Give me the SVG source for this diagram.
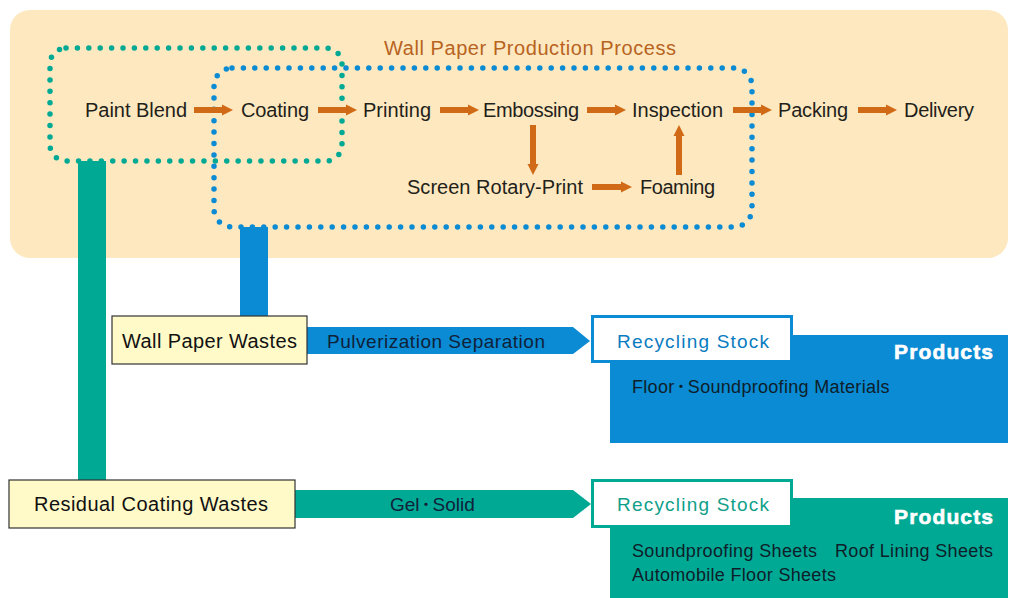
<svg xmlns="http://www.w3.org/2000/svg" width="1014" height="598" viewBox="0 0 1014 598">
<defs>
<style>
text{font-family:"Liberation Sans","Noto Sans CJK JP",sans-serif;}
.p{font-size:20px;fill:#231f1a;}
.t{font-size:20px;fill:#b8631e;}
.box{fill:#fffac8;stroke:#333;stroke-width:1.2;}
.bt{font-size:20px;fill:#111;}
.al{font-size:19px;fill:#10223a;}
.rs{font-size:19px;}
.prod{font-size:21px;font-weight:bold;fill:#fff;stroke:#fff;stroke-width:0.6;}
.pi{font-size:18px;fill:#0e1e2a;}
.md{font-size:13px;font-weight:bold;}
.flow{stroke:#d06a16;stroke-width:6;fill:none;marker-end:url(#ah);}
.dotg{fill:none;stroke:#00a994;stroke-width:5.5;stroke-linecap:round;stroke-dasharray:0 11.4;}
.dotb{fill:none;stroke:#0a8bd3;stroke-width:5.5;stroke-linecap:round;stroke-dasharray:0 11.4;}
</style>
<marker id="ah" markerUnits="userSpaceOnUse" markerWidth="11" markerHeight="12" refX="0" refY="6" orient="auto">
<path d="M0,0.5 L11,6 L0,11.5 z" fill="#d06a16"/>
</marker>
</defs>
<rect x="0" y="0" width="1014" height="598" fill="#fff"/>
<g id="process-panel">
<rect x="10" y="10" width="998" height="248" rx="20" fill="#fde8c0"/>
<text class="t" x="530" y="55" text-anchor="middle" textLength="292">Wall Paper Production Process</text>
</g>
<g id="bars">
<rect x="78" y="161" width="28" height="320" fill="#00a994"/>
<rect x="240" y="227" width="28" height="90" fill="#0a8bd3"/>
</g>
<g id="groups">
<rect id="group-coating" class="dotg" x="50" y="48" width="292" height="113" rx="16"/>
<rect id="group-printing" class="dotb" x="214" y="68" width="538" height="159" rx="18"/>
</g>
<g id="connectors">
<path class="flow" d="M194,110 H222"/>
<path class="flow" d="M318,110 H346"/>
<path class="flow" d="M440,110 H468"/>
<path class="flow" d="M587,110 H615"/>
<path class="flow" d="M733,110 H761"/>
<path class="flow" d="M858,110 H886"/>
<path class="flow" d="M533,125 V164"/>
<path class="flow" d="M592,187 H621"/>
<path class="flow" d="M679,175 V136"/>
<path id="arrow-pulverization" d="M306,327 H573 L590,341 L573,354 H306 z" fill="#0a8bd3"/>
<path id="arrow-gel" d="M295,490 H573 L591,504 L573,518 H295 z" fill="#00a994"/>
</g>
<g id="node-paint-blend"><text class="p" x="85" y="117" textLength="102">Paint Blend</text></g>
<g id="node-coating"><text class="p" x="241" y="117" textLength="68">Coating</text></g>
<g id="node-printing"><text class="p" x="363" y="117" textLength="68">Printing</text></g>
<g id="node-embossing"><text class="p" x="483" y="117" textLength="96">Embossing</text></g>
<g id="node-inspection"><text class="p" x="632" y="117" textLength="91">Inspection</text></g>
<g id="node-packing"><text class="p" x="778" y="117" textLength="70">Packing</text></g>
<g id="node-delivery"><text class="p" x="904" y="117" textLength="70">Delivery</text></g>
<g id="node-screen"><text class="p" x="407" y="194" textLength="176">Screen Rotary-Print</text></g>
<g id="node-foaming"><text class="p" x="640" y="194" textLength="75">Foaming</text></g>
<g id="label-pulverization"><text class="al" x="327" y="348" textLength="218">Pulverization Separation</text></g>
<g id="label-gel"><text class="al" x="390" y="511">Gel<tspan class="md" dy="-2">・</tspan><tspan dy="2">Solid</tspan></text></g>
<g id="node-wallpaper-wastes">
<rect class="box" x="112" y="316" width="195" height="48"/>
<text class="bt" x="122" y="348" textLength="175">Wall Paper Wastes</text>
</g>
<g id="node-residual-wastes">
<rect class="box" x="9" y="480" width="286" height="48"/>
<text class="bt" x="34" y="511" textLength="234">Residual Coating Wastes</text>
</g>
<g id="node-products-blue">
<rect x="610" y="335" width="398" height="108" fill="#0a8bd3"/>
<text class="prod" x="993" y="359" text-anchor="end" textLength="99">Products</text>
<text class="pi" x="632" y="393" letter-spacing="0.3">Floor<tspan class="md" dy="-2">・</tspan><tspan dy="2">Soundproofing Materials</tspan></text>
</g>
<g id="node-recycling-blue">
<rect x="592.5" y="316.5" width="199" height="45" fill="#fff" stroke="#0a8bd3" stroke-width="3"/>
<text class="rs" x="617" y="348" fill="#0a7cc0" textLength="152">Recycling Stock</text>
</g>
<g id="node-products-green">
<rect x="610" y="498" width="398" height="100" fill="#00a994"/>
<text class="prod" x="993" y="524" text-anchor="end" textLength="99">Products</text>
<text class="pi" x="632" y="557" textLength="185">Soundproofing Sheets</text>
<text class="pi" x="835" y="557" textLength="158">Roof Lining Sheets</text>
<text class="pi" x="632" y="581" textLength="204">Automobile Floor Sheets</text>
</g>
<g id="node-recycling-green">
<rect x="592.5" y="480.5" width="199" height="46" fill="#fff" stroke="#00a994" stroke-width="3"/>
<text class="rs" x="617" y="511" fill="#10a08a" textLength="152">Recycling Stock</text>
</g>
</svg>
